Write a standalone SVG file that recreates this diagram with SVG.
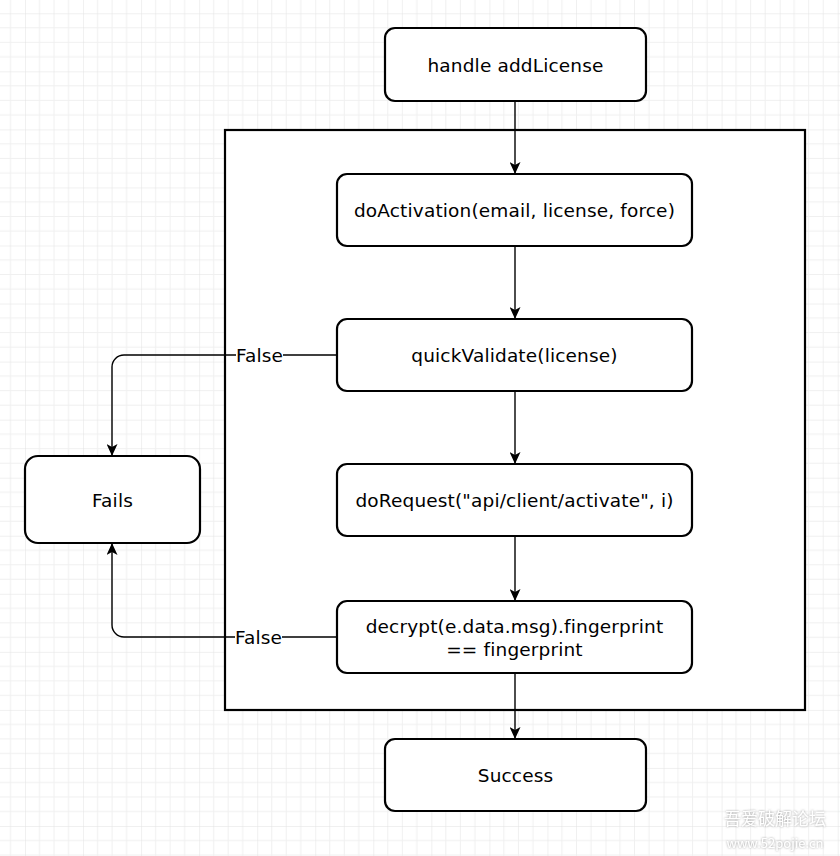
<svg xmlns="http://www.w3.org/2000/svg" width="840" height="856" viewBox="0 0 840 856">
  <defs>
    <pattern id="grid" patternUnits="userSpaceOnUse" x="25" y="13.3" width="58.05" height="58.05">
      <path d="M14.51 0V58.05M29.03 0V58.05M43.54 0V58.05M0 14.51H58.05M0 29.03H58.05M0 43.54H58.05" stroke="#f0f0f0" stroke-width="1" fill="none"/>
      <path d="M0 0V58.05M0 0H58.05" stroke="#e2e2e2" stroke-width="1" fill="none"/>
    </pattern>
    <marker id="arrow" markerUnits="userSpaceOnUse" viewBox="0 0 12 11" refX="12" refY="5.5" markerWidth="12" markerHeight="11" orient="auto">
      <path d="M0,0 L12,5.5 L0,11 L3,5.5 Z" fill="#000"/>
    </marker>
    <filter id="glow" x="-10%" y="-30%" width="120%" height="160%">
      <feDropShadow dx="0" dy="0" stdDeviation="1.2" flood-color="#8a8a8a" flood-opacity="0.9"/>
    </filter>
  </defs>
  <style>
    .node { fill: #fff; stroke: #000; stroke-width: 2.2; }
    .frame { fill: #fff; stroke: #000; stroke-width: 2.2; }
    .label { font-family: "DejaVu Sans", Verdana, sans-serif; font-size: 18.5px; letter-spacing: 0.15px; fill: #000; text-anchor: middle; }
    .edge { fill: none; stroke: #000; stroke-width: 1.4; marker-end: url(#arrow); }
    .elabel-bg { fill: #fff; }
    .wm { font-family: "Noto Sans CJK SC", "DejaVu Sans", sans-serif; fill: #fff; text-anchor: middle; filter: url(#glow); }
  </style>

  <rect x="0" y="0" width="840" height="856" fill="#fff"/>
  <rect x="0" y="0" width="840" height="856" fill="url(#grid)"/>

  <g id="container">
    <rect class="frame" x="225" y="130" width="580" height="580"/>
  </g>

  <g id="connectors">
    <path class="edge" d="M515 101V174"/>
    <path class="edge" d="M515 246V319"/>
    <path class="edge" d="M515 391V464"/>
    <path class="edge" d="M515 536V601"/>
    <path class="edge" d="M515 673V739"/>
    <path class="edge" d="M337 355H124A12 12 0 0 0 112 367V456"/>
    <path class="edge" d="M337 637H124A12 12 0 0 1 112 625V543"/>
    <g id="label-false-1">
      <rect class="elabel-bg" x="236" y="346" width="47" height="18"/>
      <text class="label" x="259.5" y="361.5">False</text>
    </g>
    <g id="label-false-2">
      <rect class="elabel-bg" x="235" y="628" width="47" height="18"/>
      <text class="label" x="258.5" y="643.5">False</text>
    </g>
  </g>

  <g id="handle-addLicense">
    <rect class="node" x="385" y="28" width="261" height="73" rx="10" ry="10"/>
    <text class="label" x="515.5" y="71.5">handle addLicense</text>
  </g>
  <g id="doActivation">
    <rect class="node" x="337" y="174" width="355" height="72" rx="10" ry="10"/>
    <text class="label" x="514.5" y="217">doActivation(email, license, force)</text>
  </g>
  <g id="quickValidate">
    <rect class="node" x="337" y="319" width="355" height="72" rx="10" ry="10"/>
    <text class="label" x="514.5" y="362">quickValidate(license)</text>
  </g>
  <g id="doRequest">
    <rect class="node" x="337" y="464" width="355" height="72" rx="10" ry="10"/>
    <text class="label" x="514.5" y="507">doRequest("api/client/activate", i)</text>
  </g>
  <g id="decrypt">
    <rect class="node" x="337" y="601" width="355" height="72" rx="10" ry="10"/>
    <text class="label" x="514.5" y="633">decrypt(e.data.msg).fingerprint</text>
    <text class="label" x="514.5" y="655.5">== fingerprint</text>
  </g>
  <g id="fails">
    <rect class="node" x="25" y="456" width="175" height="87" rx="13" ry="13"/>
    <text class="label" x="112.5" y="506.5">Fails</text>
  </g>
  <g id="success">
    <rect class="node" x="385" y="739" width="261" height="72" rx="10" ry="10"/>
    <text class="label" x="515.5" y="782">Success</text>
  </g>

  <g id="watermark">
    <text class="wm" x="775" y="825" font-size="17">吾爱破解论坛</text>
    <text class="wm" x="775" y="848" font-size="13">www.52pojie.cn</text>
  </g>
</svg>
